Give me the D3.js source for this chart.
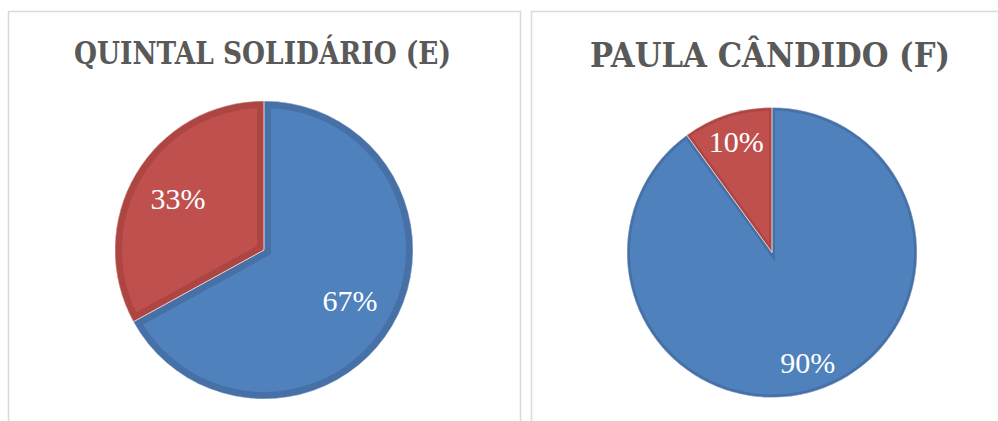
<!DOCTYPE html>
<html><head><meta charset="utf-8">
<script src="https://cdn.jsdelivr.net/npm/d3@7"></script>
<style>
html,body{margin:0;padding:0;background:#fff;}
svg{display:block;}
</style></head>
<body>
<svg id="chart" width="998" height="421"></svg>
<script>
// ---- data ----
const chartTitles = ["QUINTAL SOLIDÁRIO (E)", "PAULA CÂNDIDO (F)"];
const categories = ["Sim", "Não"];
const valuesE = [67, 33];
const valuesF = [90, 10];
const sliceColors = ["#4F81BD", "#C0504D"];
const sliceEdge = ["#4670A6", "#AD4643"];

const svg = d3.select("#chart");
const defs = svg.append("defs");

const panels = [
  {x: 8.5, y: 11.5, w: 512, title: chartTitles[0], values: valuesE, cx: 264, cy: 250, r: 149,
   tx: 262.5, ty: 64, fs: 31, tl: 377, edge: 14, lr: 0.67},
  {x: 531.5, y: 11.5, w: 480, title: chartTitles[1], values: valuesF, cx: 772, cy: 252.5, r: 145,
   tx: 770, ty: 67, fs: 34, tl: 360, edge: 6, lr: 0.8}
];

panels.forEach((p, pi) => {
  const g = svg.append("g");
  g.append("rect").attr("x", p.x).attr("y", p.y).attr("width", p.w).attr("height", 440)
    .attr("fill", "#fff").attr("stroke", "#D9D9D9").attr("stroke-width", 1.5);

  g.append("text").attr("x", p.tx).attr("y", p.ty)
    .attr("text-anchor", "middle")
    .attr("font-family", "'DejaVu Serif', 'Liberation Serif', serif")
    .attr("font-weight", "bold")
    .attr("font-size", p.fs)
    .attr("fill", "#595959")
    .attr("textLength", p.tl)
    .attr("lengthAdjust", "spacingAndGlyphs")
    .text(p.title);

  const data = categories.map((c, i) => ({cat: c, value: p.values[i], idx: i}));
  const pie = d3.pie().sort(null).value(d => d.value);
  const arcs = pie(data);
  const arc = d3.arc().innerRadius(0).outerRadius(p.r);
  const labelArc = d3.arc().innerRadius(p.r * p.lr).outerRadius(p.r * p.lr);

  const pg = g.append("g").attr("transform", `translate(${p.cx},${p.cy})`);
  arcs.forEach((a, i) => {
    const id = `clip-${pi}-${i}`;
    defs.append("clipPath").attr("id", id)
      .append("path").attr("d", arc(a))
      .attr("transform", `translate(${p.cx},${p.cy})`);
    pg.append("path").attr("d", arc(a)).attr("fill", sliceColors[a.data.idx]);
    pg.append("path").attr("d", arc(a)).attr("fill", "none")
      .attr("stroke", sliceEdge[a.data.idx]).attr("stroke-width", p.edge)
      .attr("clip-path", `url(#${id})`)
      .attr("transform", null);
  });
  // fix clip coordinates: clip applies in user space of the element (pg space)
  defs.selectAll(`clipPath[id^="clip-${pi}-"] path`).attr("transform", null);
  arcs.forEach(a => {
    pg.append("path").attr("d", arc(a)).attr("fill", "none")
      .attr("stroke", "#ffffff").attr("stroke-opacity", 0.45).attr("stroke-width", 1);
  });
  arcs.forEach(a => {
    const c = labelArc.centroid(a);
    pg.append("text").attr("x", c[0]).attr("y", c[1] + 10)
      .attr("text-anchor", "middle")
      .attr("font-family", "'Liberation Serif', serif")
      .attr("font-size", 30).attr("fill", "#fff")
      .text(d3.format(".0%")(a.data.value / 100));
  });
});
</script>
</body></html>
